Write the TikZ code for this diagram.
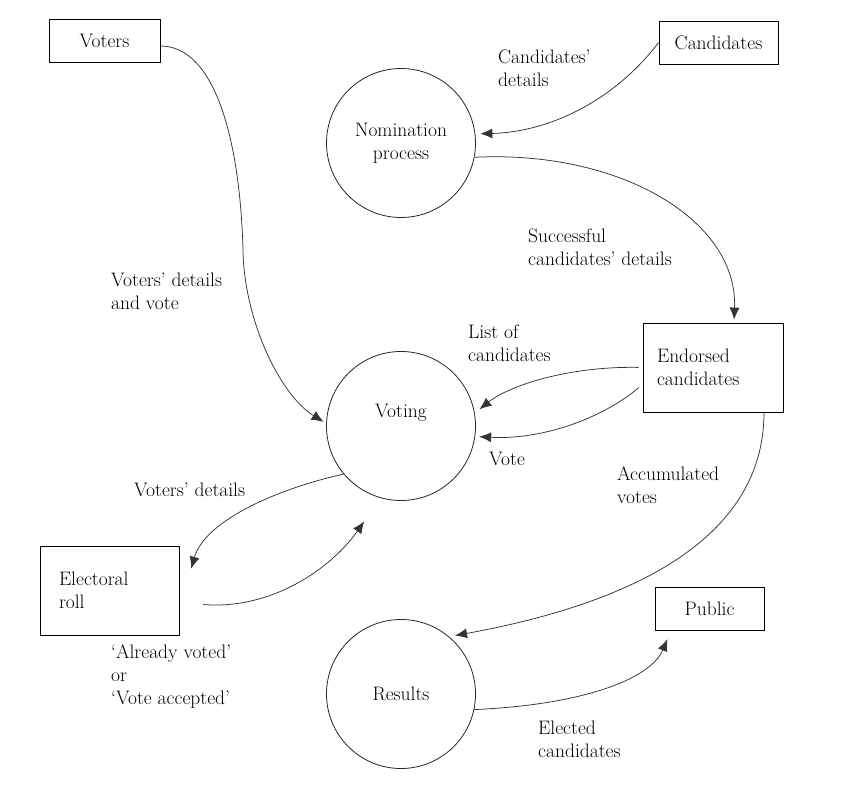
\documentclass[tikz,border=0pt]{standalone}
\usepackage{fontspec}
\usepackage{tikz}
\usetikzlibrary{arrows.meta}
\usetikzlibrary{positioning}
\tikzset{
	>={Latex[length=12pt,width=10pt]},
	entity/.style={
		rectangle,
		draw=black, line width=0.8pt,
		minimum height=43pt,
		text centered},
	store/.style={
		rectangle,
		draw=black, line width=0.8pt,
		align=left,
		minimum height=89pt},
	process/.style={
		circle,
		draw=black!85, line width=0.8pt,
		minimum size=149pt,
		inner sep=0pt,
		align=center},
	flow/.style={draw, black!80, line width=0.75pt, ->, shorten >=3pt},
	flowlabel/.style={anchor=west, inner sep=0pt, align=left},
}

\begin{document}
\begin{tikzpicture}
			[x=1pt, y=-1pt,
			font=\rmfamily\fontsize{19.5}{23}\selectfont]
			\useasboundingbox (0,0) rectangle (844,786);
			% external entities
			\node[entity, minimum width=111pt] (voters) at (104.5,41) {Voters};
			\node[entity, minimum width=119pt] (candidates) at (718.5,42.5) {Candidates};
			\node[entity, minimum width=109pt] (public) at (709.5,608.5) {Public};
			% processes
			\node[process] (nomination) at (401,143) {Nomination\\process};
			\node[process, label={[yshift=13pt]center:Voting}] (voting) at (401,426) {};
			\node[process] (results) at (401,694) {Results};
			% data stores
			\node[store, inner xsep=14pt, text width=112pt] (endorsed) at (713,367.5) {Endorsed\\candidates};
			\node[store, inner xsep=19pt, text width=101pt] (roll) at (109.5,590.5) {Electoral\\roll};
			
			\draw[flow] ([yshift=-5pt]voters.east) .. controls (215,46) and (240,140) .. (243,250)
				.. controls (244,320) and (280,395) .. (voting.178);
			\draw[flow, shorten >=5pt] (candidates.west) .. controls (615,100) and (550,132) .. (nomination.7);
			\draw[flow] (nomination.-11) .. controls (620,150) and (738,220) .. ([xshift=21pt]endorsed.north);
			\draw[flow, shorten <=4pt, shorten >=6pt] (endorsed.west) .. controls (570,366) and (510,385) .. (voting.10);
			\draw[flow, shorten <=5pt, shorten >=4pt] ([yshift=-17pt]endorsed.west) .. controls (600,420) and (540,440) .. (voting.-8);
			\draw[flow, shorten >=6pt] ([xshift=51pt]endorsed.south) .. controls (764,530) and (650,600) .. (results.50);
			\draw[flow] (voting.220) .. controls (280,488) and (205,520) .. ([shift={(11,26)}]roll.north east);
			\draw[flow] ([shift={(24,14)}]roll.east) .. controls (270,610) and (330,570) .. ([shift={(-35,18)}]voting.south);
			\draw[flow] (results.-12) .. controls (580,705) and (650,680) .. ([shift={(14,6)}]public.south west);
			
			\node[flowlabel] (candlbl) at (498,68) {Candidates’\\details};
			\node[flowlabel] (succlbl) at (528,247) {Successful\\candidates’ details};
			\node[flowlabel] (voteslbl) at (111,291.5) {Voters’ details\\and vote};
			\node[flowlabel] (listlbl) at (468,343) {List of\\candidates};
			\node[flowlabel] (votelbl) at (489,459) {Vote};
			\node[flowlabel] (accumlbl) at (617,485.5) {Accumulated\\votes};
			\node[flowlabel] (detailslbl) at (134,490) {Voters’ details};
			\node[flowlabel] (statuslbl) at (111,676.5) {‘Already voted’\\or\\‘Vote accepted’};
			\node[flowlabel] (electlbl) at (538,739.5) {Elected\\candidates};
			
			\end{tikzpicture}
\end{document}
